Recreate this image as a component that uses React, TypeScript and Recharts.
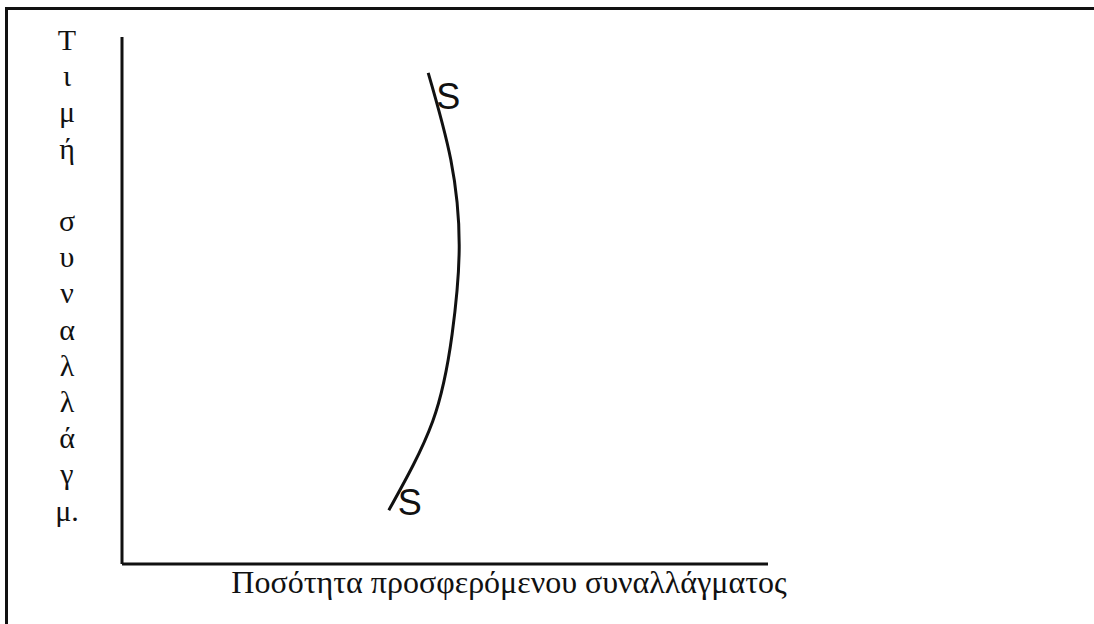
import React from 'react';
import { LineChart, Line, XAxis, YAxis, LabelList } from 'recharts';

// Supply curve S: quantity offered vs exchange rate (price)
const quantity = [47.4, 50.9, 52.2, 51.1, 48.1, 41.3];
const price = [93.2, 76.7, 60.2, 43.6, 27.1, 10.2];
const curveTags = ['S', '', '', '', '', 'S'];

const yTitle = ['Τ', 'ι', 'μ', 'ή', '', 'σ', 'υ', 'ν', 'α', 'λ', 'λ', 'ά', 'γ', 'μ.'];
const xTitle = 'Ποσότητα προσφερόμενου συναλλάγματος';

const data = quantity.map((q, i) => ({ q, p: price[i], tag: curveTags[i] }));

const serif = '"Liberation Serif", "DejaVu Serif", serif';

const renderTag = (props: any) => {
    const { x, y, value, index } = props;
    if (!value) return null;
    const first = index === 0;
    return (
        <text
            x={x + (first ? 20 : 21)}
            y={y + (first ? 24 : -8)}
            textAnchor="middle"
            dominantBaseline="central"
            fontFamily='"Liberation Sans", Arial, sans-serif'
            fontSize={36}
            fill="#111"
        >
            {value}
        </text>
    );
};

const YTitle = (props: any) => {
    const { viewBox } = props;
    const cx = viewBox.x + viewBox.width / 2 + 6;
    return (
        <text x={cx} y={0} textAnchor="middle" fontFamily={serif} fontSize={30} fill="#111">
            {yTitle.map((ch, i) => (
                <tspan key={i} x={cx} y={50 + i * 36.2}>
                    {ch || '\u00a0'}
                </tspan>
            ))}
        </text>
    );
};

const XTitle = (props: any) => {
    const { viewBox } = props;
    return (
        <text
            x={viewBox.x + viewBox.width / 2 + 64}
            y={viewBox.y + 29}
            textAnchor="middle"
            fontFamily={serif}
            fontSize={32}
            fill="#111"
        >
            {xTitle}
        </text>
    );
};

const App: React.FC = () => {
    return (
        <div style={{ position: 'absolute', left: 0, top: 0, width: 1094, height: 624, background: '#fff' }}>
            <div
                style={{
                    position: 'absolute',
                    left: 5,
                    top: 7,
                    right: 0,
                    bottom: 0,
                    borderTop: '3px solid #111',
                    borderLeft: '3px solid #111',
                }}
            />
            <LineChart
                width={1094}
                height={624}
                data={data}
                margin={{ top: 37, right: 326, left: 0, bottom: 0 }}
                style={{ position: 'absolute', left: 0, top: 0 }}
            >
                <XAxis
                    type="number"
                    dataKey="q"
                    domain={[0, 100]}
                    height={60}
                    tick={false}
                    tickLine={false}
                    axisLine={{ stroke: '#111', strokeWidth: 3 }}
                    label={<XTitle />}
                />
                <YAxis
                    type="number"
                    dataKey="p"
                    domain={[0, 100]}
                    width={122}
                    tick={false}
                    tickLine={false}
                    axisLine={{ stroke: '#111', strokeWidth: 3 }}
                    label={<YTitle />}
                />
                <Line
                    type="natural"
                    dataKey="p"
                    stroke="#111"
                    strokeWidth={3}
                    dot={false}
                    isAnimationActive={false}
                >
                    <LabelList dataKey="tag" content={renderTag} />
                </Line>
            </LineChart>
        </div>
    );
};

export default App;
